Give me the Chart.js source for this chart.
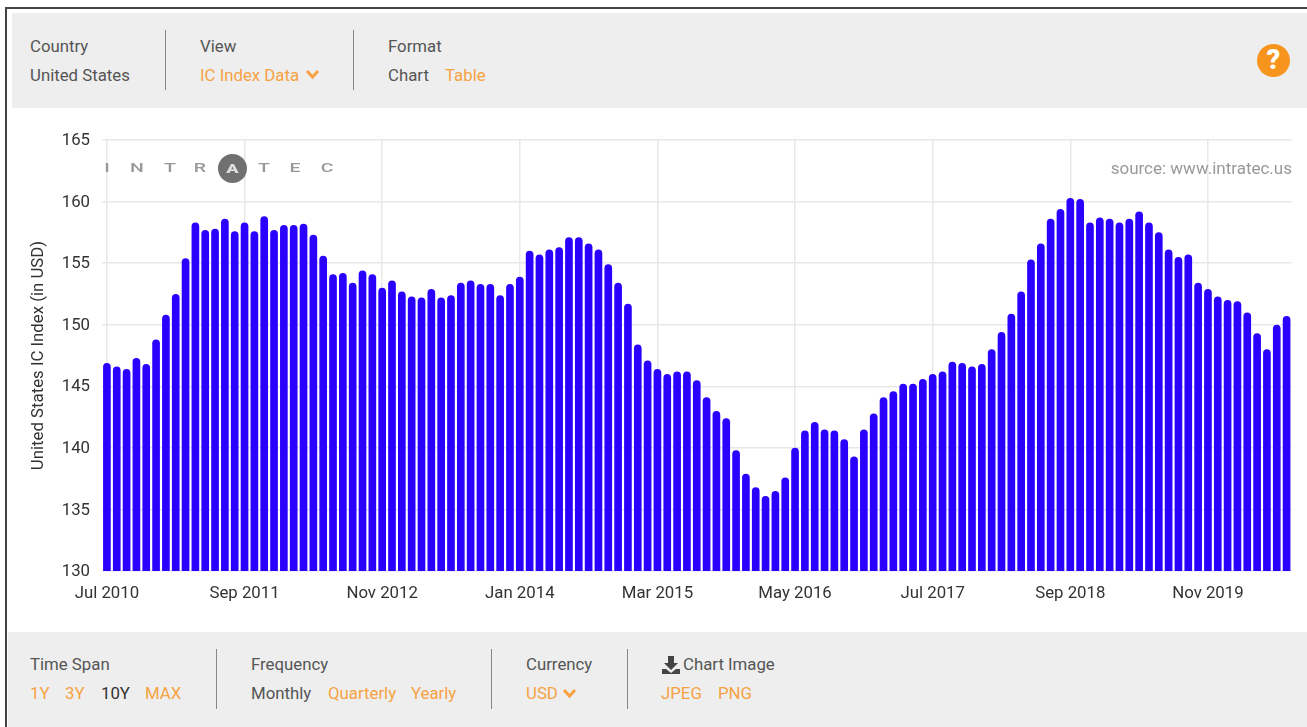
<!DOCTYPE html>
<html>
<head>
<meta charset="utf-8">
<title>United States IC Index</title>
<script src="https://cdn.jsdelivr.net/npm/chart.js@4/dist/chart.umd.js"></script>
<style>
  html, body { margin: 0; padding: 0; background: #fff; }
  body { width: 1307px; height: 727px; position: relative; overflow: hidden; font-family: Roboto, sans-serif; font-size: 16.8px; color: #555; }
  .frame-top { position: absolute; left: 5px; top: 7px; right: 0; height: 2px; background: #444; }
  .frame-left { position: absolute; left: 5px; top: 7px; bottom: 0; width: 2px; background: #444; }
  .band { position: absolute; background: #eee; right: 0; }
  #head { left: 12px; top: 13px; height: 95px; }
  #foot { left: 8px; top: 632px; bottom: 0; }
  .t { position: absolute; white-space: nowrap; line-height: 20px; }
  .o { color: #f6a243; }
  .k { color: #333; }
  .sep { position: absolute; width: 1px; background: #888; }
  #wrap { position: absolute; left: 12px; top: 108px; width: 1295px; height: 524px; }
  #logo span { position: absolute; top: 159px; width: 20px; text-align: center; font-size: 13px; font-weight: 500; line-height: 18px; color: #999; transform: scaleX(1.5); }
  #logoA { position: absolute; left: 218px; top: 154px; width: 29px; height: 29px; border-radius: 50%; background: #707070; color: #ddd; text-align: center; line-height: 29px; font-size: 13px; font-weight: bold; }
  #logoA b { display: inline-block; transform: scaleX(1.4); }
  #help { position: absolute; left: 1257px; top: 44px; width: 33px; height: 33px; border-radius: 50%; background: #f7941d; color: #fff; text-align: center; line-height: 33px; font-size: 27px; font-weight: 900; }
</style>
</head>
<body>
<div class="frame-top"></div>
<div class="frame-left"></div>
<div class="band" id="head"></div>
<div class="band" id="foot"></div>

<span class="t" style="left:30px;top:36px">Country</span>
<span class="t" style="left:30px;top:65px">United States</span>
<div class="sep" style="left:165px;top:30px;height:60px"></div>
<span class="t" style="left:200px;top:36px">View</span>
<span class="t o" style="left:200px;top:65px">IC Index Data</span>
<svg style="position:absolute;left:305px;top:69px" width="15" height="11" viewBox="0 0 15 11"><path d="M2 2 L7.5 8 L13 2" fill="none" stroke="#f6a243" stroke-width="3"/></svg>
<div class="sep" style="left:353px;top:30px;height:60px"></div>
<span class="t" style="left:388px;top:36px">Format</span>
<span class="t" style="left:388px;top:65px">Chart</span>
<span class="t o" style="left:445px;top:65px">Table</span>
<div id="help">?</div>

<div id="wrap"><canvas id="icChart"></canvas></div>

<div id="logo">
  <span style="left:97px">I</span>
  <span style="left:127px">N</span>
  <span style="left:160px">T</span>
  <span style="left:190px">R</span>
  <span style="left:254px">T</span>
  <span style="left:285px">E</span>
  <span style="left:317px">C</span>
</div>
<div id="logoA"><b>A</b></div>
<span class="t" style="right:15px;top:158px;color:#999;font-size:17px">source: www.intratec.us</span>

<span class="t" style="left:30px;top:654px">Time Span</span>
<span class="t o" style="left:30px;top:683px">1Y</span>
<span class="t o" style="left:65px;top:683px">3Y</span>
<span class="t k" style="left:101px;top:683px">10Y</span>
<span class="t o" style="left:145px;top:683px">MAX</span>
<div class="sep" style="left:216px;top:649px;height:60px"></div>
<span class="t" style="left:251px;top:654px">Frequency</span>
<span class="t" style="left:251px;top:683px">Monthly</span>
<span class="t o" style="left:328px;top:683px">Quarterly</span>
<span class="t o" style="left:411px;top:683px">Yearly</span>
<div class="sep" style="left:491px;top:649px;height:60px"></div>
<span class="t" style="left:526px;top:654px">Currency</span>
<span class="t o" style="left:526px;top:683px">USD</span>
<svg style="position:absolute;left:562px;top:688px" width="15" height="11" viewBox="0 0 15 11"><path d="M2 2 L7.5 8 L13 2" fill="none" stroke="#f6a243" stroke-width="3"/></svg>
<div class="sep" style="left:627px;top:649px;height:60px"></div>
<svg style="position:absolute;left:662px;top:656px" width="18" height="18" viewBox="0 0 18 18"><path d="M6 0 H12 V7 H16 L9 14 L2 7 H6 Z M0 13 H4 L9 17 L14 13 H18 V18 H0 Z" fill="#444"/></svg>
<span class="t" style="left:683px;top:654px">Chart Image</span>
<span class="t o" style="left:661px;top:683px">JPEG</span>
<span class="t o" style="left:718px;top:683px">PNG</span>

<script>
var monthNames = ["Jan", "Feb", "Mar", "Apr", "May", "Jun", "Jul", "Aug", "Sep", "Oct", "Nov", "Dec"];
var tickLabels = ["Jul 2010", "Sep 2011", "Nov 2012", "Jan 2014", "Mar 2015", "May 2016", "Jul 2017", "Sep 2018", "Nov 2019"];

var icIndex = [
  146.9, 146.6, 146.4, 147.3, 146.8, 148.8, 150.8, 152.5, 155.4, 158.3,
  157.7, 157.8, 158.6, 157.6, 158.3, 157.6, 158.8, 157.7, 158.1, 158.1,
  158.2, 157.3, 155.6, 154.1, 154.2, 153.4, 154.4, 154.1, 153.0, 153.6,
  152.7, 152.3, 152.2, 152.9, 152.2, 152.4, 153.4, 153.6, 153.3, 153.3,
  152.4, 153.3, 153.9, 156.0, 155.7, 156.1, 156.3, 157.1, 157.1, 156.6,
  156.1, 154.9, 153.4, 151.7, 148.4, 147.1, 146.4, 146.0, 146.2, 146.2,
  145.5, 144.1, 143.0, 142.4, 139.8, 137.9, 136.8, 136.1, 136.5, 137.6,
  140.0, 141.4, 142.1, 141.5, 141.4, 140.7, 139.3, 141.5, 142.8, 144.1,
  144.6, 145.2, 145.2, 145.6, 146.0, 146.2, 147.0, 146.9, 146.6, 146.8,
  148.0, 149.4, 150.9, 152.7, 155.3, 156.6, 158.6, 159.4, 160.3, 160.2,
  158.3, 158.7, 158.6, 158.3, 158.6, 159.2, 158.3, 157.5, 156.1, 155.5,
  155.7, 153.4, 152.9, 152.3, 152.0, 151.9, 151.0, 149.3, 148.0, 150.0,
  150.7
];

// one label per month, starting Jul 2010
var categories = [];
for (var i = 0; i < icIndex.length; i++) {
  var m = (6 + i) % 12;
  var y = 2010 + Math.floor((6 + i) / 12);
  categories.push(monthNames[m] + " " + y);
}

var canvas = document.getElementById("icChart");
new Chart(canvas.getContext("2d"), {
  type: "bar",
  data: {
    labels: categories,
    datasets: [{
      label: "United States IC Index (in USD)",
      data: icIndex,
      backgroundColor: "#2a00ff",
      barPercentage: 0.78,
      categoryPercentage: 1,
      borderRadius: { topLeft: 4, topRight: 4, bottomLeft: 0, bottomRight: 0 },
      borderSkipped: false
    }]
  },
  options: {
    responsive: true,
    maintainAspectRatio: false,
    animation: false,
    layout: { padding: { left: 17, right: 15.5, top: 32, bottom: 0 } },
    plugins: { legend: { display: false }, tooltip: { enabled: false } },
    scales: {
      x: {
        offset: true,
        grid: {
          offset: false,
          drawTicks: false,
          lineWidth: 1.5,
          color: function (ctx) {
            return tickLabels.indexOf(categories[ctx.index]) > -1 ? "#e8e8e8" : "transparent";
          }
        },
        border: { display: false },
        ticks: {
          autoSkip: false,
          maxRotation: 0,
          padding: 13,
          color: "#333",
          font: { family: "Roboto", size: 16.8 },
          callback: function (value) {
            var name = this.getLabelForValue(value);
            return tickLabels.indexOf(name) > -1 ? name : "";
          }
        },
        afterFit: function (scale) { scale.height = 61; }
      },
      y: {
        min: 130,
        max: 165,
        ticks: { stepSize: 5, padding: 12, labelOffset: 1, color: "#333", font: { family: "Roboto", size: 16.8 } },
        grid: { color: "#e8e8e8", lineWidth: 1.5, drawTicks: false },
        border: { display: false },
        title: {
          display: true,
          text: "United States IC Index (in USD)",
          color: "#333",
          font: { family: "Roboto", size: 16.8 },
          padding: { top: 0, bottom: 0 }
        },
        afterFit: function (scale) { scale.width = 73; }
      }
    }
  }
});
</script>
</body>
</html>
